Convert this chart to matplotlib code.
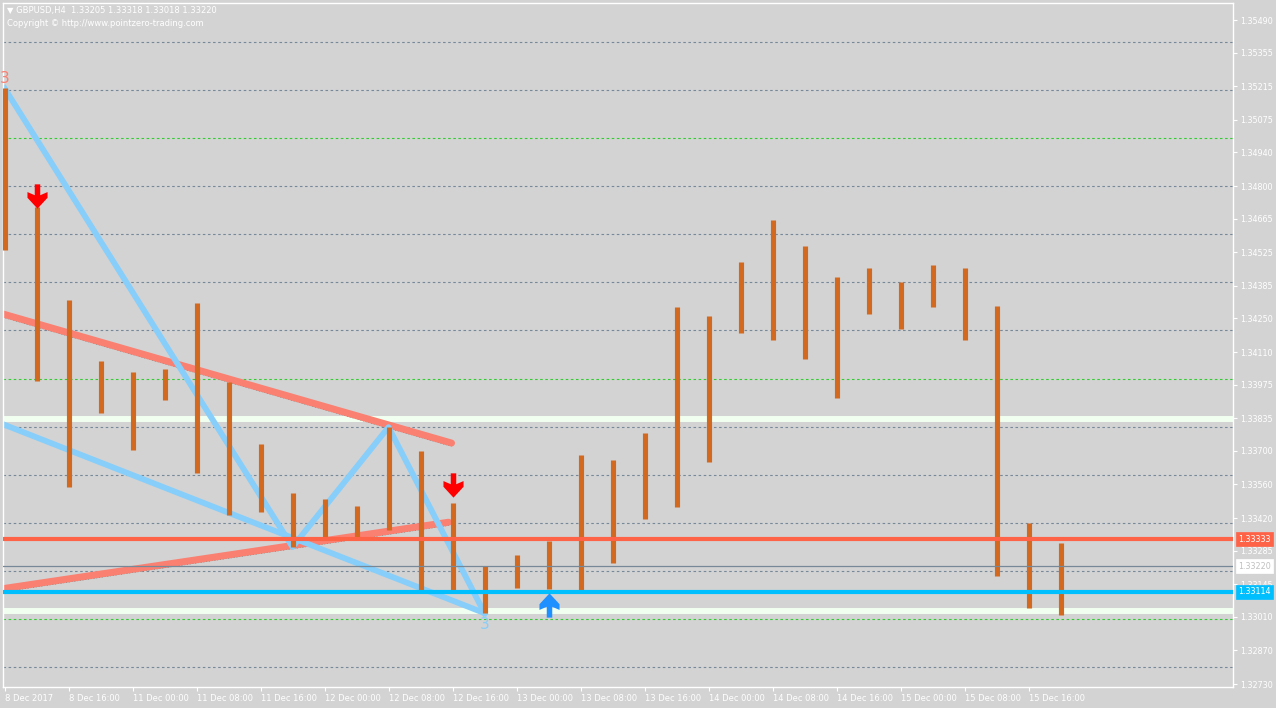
import numpy as np
import matplotlib
matplotlib.use("Agg")
import matplotlib.pyplot as plt
from matplotlib import transforms

# GBPUSD H4 bars, 8 Dec 08:00 .. 15 Dec 20:00
bar_high = [1.35207, 1.34713, 1.34326, 1.34073, 1.34027, 1.34039, 1.34314, 1.33985, 1.33728, 1.33524,
            1.33499, 1.33470, 1.33798, 1.33699, 1.33482, 1.33221, 1.33266, 1.33324, 1.33682, 1.33661,
            1.33773, 1.34297, 1.34260, 1.34484, 1.34659, 1.34551, 1.34422, 1.34459, 1.34401, 1.34472,
            1.34459, 1.34301, 1.33399, 1.33318]
bar_low = [1.34534, 1.33990, 1.33549, 1.33856, 1.33703, 1.33911, 1.33607, 1.33433, 1.33445, 1.33300,
           1.33329, 1.33341, 1.33370, 1.33121, 1.33121, 1.33025, 1.33129, 1.33125, 1.33121, 1.33233,
           1.33416, 1.33466, 1.33653, 1.34189, 1.34160, 1.34081, 1.33919, 1.34268, 1.34206, 1.34297,
           1.34160, 1.33179, 1.33046, 1.33018]

xtick_pos = list(range(0, 34, 2))
xtick_labels = ["8 Dec 2017", "8 Dec 16:00", "11 Dec 00:00", "11 Dec 08:00", "11 Dec 16:00",
                "12 Dec 00:00", "12 Dec 08:00", "12 Dec 16:00", "13 Dec 00:00", "13 Dec 08:00",
                "13 Dec 16:00", "14 Dec 00:00", "14 Dec 08:00", "14 Dec 16:00", "15 Dec 00:00",
                "15 Dec 08:00", "15 Dec 16:00"]
ytick_vals = [1.35490, 1.35355, 1.35215, 1.35075, 1.34940, 1.34800, 1.34665, 1.34525, 1.34385,
              1.34250, 1.34110, 1.33975, 1.33835, 1.33700, 1.33560, 1.33420, 1.33285, 1.33145,
              1.33010, 1.32870, 1.32730]
grid_gray = [1.3540, 1.3520, 1.3480, 1.3460, 1.3440, 1.3420, 1.3380, 1.3360, 1.3340, 1.3320, 1.3280]
grid_green = [1.3500, 1.3400, 1.3300]
zone_lines = [1.33832, 1.33033]
red_level = 1.33333
blue_level = 1.33114
last_price = 1.33220

upper_trend_x = [-0.14, 13.97]
upper_trend_y = [1.34272, 1.33732]
lower_trend_x = [-0.14, 13.88]
lower_trend_y = [1.33125, 1.33403]
zigzag_x = [0, 9, 12, 15]
zigzag_y = [bar_high[0], bar_low[9], bar_high[12], bar_low[15]]
channel_x = [-0.14, 15]
channel_y = [1.33815, bar_low[15]]

sell_x = [1, 14]
sell_y = [1.34758, 1.33557]
buy_x = [17]
buy_y = [1.33060]

BG = "#D3D3D3"
plt.rcParams['font.family'] = ['DejaVu Sans']

fig = plt.figure(figsize=(12.76, 7.08), dpi=100, facecolor=BG)
ax = fig.add_axes([3/1276, 21/708, 1230/1276, 684/708])
ax.set_facecolor(BG)
ax.set_xlim(-0.047, 38.39)
ax.set_ylim(1.32718, 1.35561)

# grid
for v in grid_gray:
    ax.axhline(v, color="#778899", lw=0.8, dashes=(2.3, 2.3), zorder=1)
for v in grid_green:
    ax.axhline(v, color="#32CD32", lw=0.8, dashes=(2.3, 2.3), zorder=1)
for v in zone_lines:
    ax.axhline(v, color="#F0FFF0", lw=4.3, zorder=1.5)

# trend lines
off = transforms.offset_copy(ax.transData, fig=fig, x=0, y=-3, units='dots')
ax.plot(upper_trend_x, upper_trend_y, color="#008080", lw=0.8, ls=(0, (1, 1.5)), transform=off, zorder=2)
ax.plot(lower_trend_x, lower_trend_y, color="#008080", lw=0.8, ls=(0, (1, 1.5)), transform=off, zorder=2)
ax.plot(upper_trend_x, upper_trend_y, color="#FA8072", lw=5.0, solid_capstyle='round', zorder=2.1)
ax.plot(lower_trend_x, lower_trend_y, color="#FA8072", lw=5.0, solid_capstyle='round', zorder=2.1)
ax.plot(zigzag_x, zigzag_y, color="#87CEFA", lw=4.2, zorder=2.2)
ax.plot(channel_x, channel_y, color="#87CEFA", lw=4.2, zorder=2.2)

# bars
x = np.arange(len(bar_high))
ax.vlines(x, bar_low, bar_high, color="#D2691E", lw=3.7, zorder=3)

# levels
ax.axhline(last_price, color="#778899", lw=0.9, zorder=3.5)
ax.axhline(red_level, color="#FF6347", lw=3.0, zorder=4)
ax.axhline(blue_level, color="#00BFFF", lw=3.0, zorder=4)

# arrows
down = [(-2.6, 11.5), (2.6, 11.5), (2.6, 1.2), (9.5, 4.2), (9.5, -1.2), (0, -11.5),
        (-9.5, -1.2), (-9.5, 4.2), (-2.6, 1.2), (-2.6, 11.5)]
up = [(px, -py) for px, py in down]
ax.plot(sell_x, sell_y, ls='none', marker=down, ms=17.5, color="#FF0000", mec="#FF0000", mew=0, zorder=5)
ax.plot(buy_x, buy_y, ls='none', marker=up, ms=17.5, color="#1E90FF", mec="#1E90FF", mew=0, zorder=5)

ax.annotate("3", (0, bar_high[0]), xytext=(0, 7), textcoords='offset points', ha='center', va='center',
            color="#FA8072", fontsize=11, zorder=6, annotation_clip=False)
ax.annotate("3", (15, bar_low[15]), xytext=(0, -8), textcoords='offset points', ha='center', va='center',
            color="#87CEFA", fontsize=11, zorder=6)

# axes styling
for s in ax.spines.values():
    s.set_color("white")
    s.set_linewidth(1)
ax.yaxis.tick_right()
ax.set_yticks(ytick_vals)
ax.set_yticklabels([f"{v:.5f}" for v in ytick_vals])
ax.set_xticks(xtick_pos)
ax.set_xticklabels(xtick_labels, ha='left')
ax.tick_params(axis='y', colors="white", labelcolor="white", length=3, width=0.8, pad=2, labelsize=5.8)
ax.tick_params(axis='x', colors="white", labelcolor="white", length=3, width=0.8, pad=2, labelsize=6)

# price boxes on right axis
yt = ax.get_yaxis_transform()
for val, bg, fg in [(red_level, "#FF6347", "white"), (last_price, "white", "#C0C0C0"),
                    (blue_level, "#00BFFF", "white")]:
    ax.text(1.004, val, f"{val:.5f}", transform=yt, ha='left', va='center', fontsize=5.8,
            color=fg, zorder=10, clip_on=False,
            bbox=dict(boxstyle='square,pad=0.3', fc=bg, ec=bg, lw=0.5))

fig.text(7/1276, 1 - 10/708, "\u25BC GBPUSD,H4  1.33205 1.33318 1.33018 1.33220", color="white",
         fontsize=6, va='center', ha='left')
fig.text(7/1276, 1 - 23/708, "Copyright \u00A9 http://www.pointzero-trading.com", color="white",
         fontsize=6, va='center', ha='left')

fig.savefig("out.png", dpi=100, facecolor=BG)
